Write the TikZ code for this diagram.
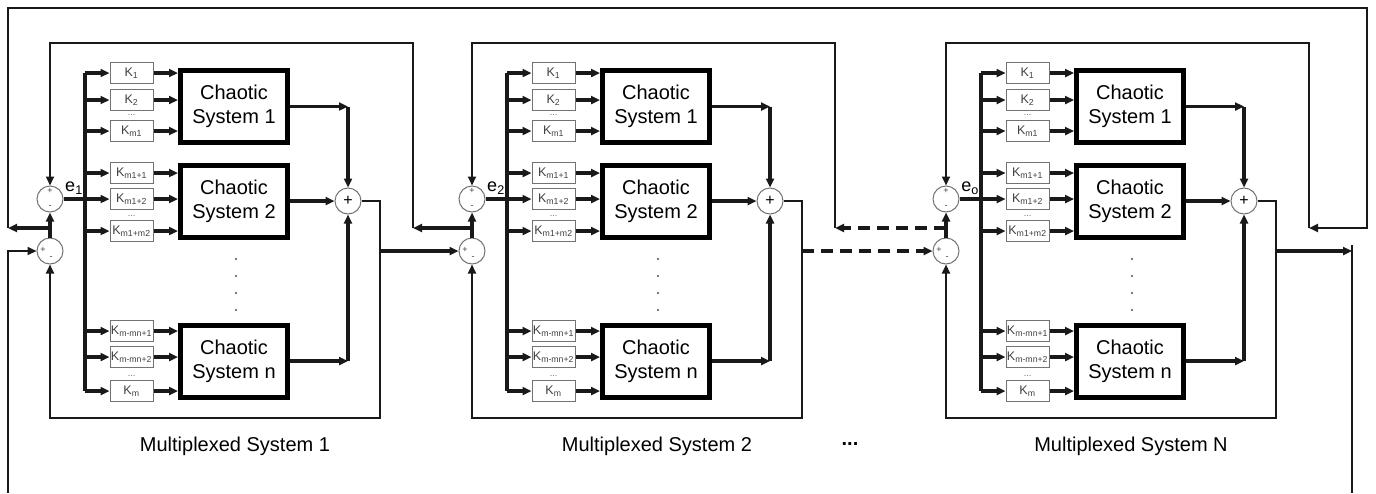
\documentclass[tikz,border=0pt]{standalone}
\usepackage{fontspec}
\setmainfont{Liberation Sans}
\usetikzlibrary{arrows.meta}
\begin{document}
\begin{tikzpicture}[x=1pt,y=-1pt,
  wire/.style={line width=2.1pt, draw=black!90},
  bus/.style={line width=3.1pt, draw=black!90},
  tip/.style={-{Triangle[length=9pt,width=8pt]}},
  sumc/.style={circle, draw=black!55, line width=1pt, minimum size=26pt, inner sep=0pt},
  gain/.style={draw=black!55, line width=1pt, minimum width=43pt, minimum height=21pt,
    inner sep=0pt, text=black!75, font=\fontsize{12.5}{13}\selectfont},
  chaos/.style={draw=black, line width=5pt, minimum width=107pt, minimum height=72pt,
    align=center, inner sep=0pt, font=\fontsize{20}{24}\selectfont},
  sign/.style={font=\fontsize{9}{9}\selectfont, text=black!75, inner sep=0pt},
  kdots/.style={font=\fontsize{9}{9}\selectfont, text=black!60, inner sep=0pt},
  vdot/.style={circle, fill=black!70, minimum size=2.2pt, inner sep=0pt},
  caption/.style={font=\fontsize{20}{24}\selectfont, inner sep=0pt},
]
\useasboundingbox (0,0) rectangle (1376,493);

% one multiplexed block per offset
\foreach \ox/\pr/\ee/\nm in {0/a/1/1, 422/b/2/2, 896/c/o/N}{
\begin{scope}[xshift=\ox pt]
  % error summing junctions
  \node[sumc] (\pr-sa) at (50,199) {};
  \node[sign] (\pr-sap) at (50,191) {+};
  \node[sign] (\pr-sam) at (50,207) {-};
  \node[sumc] (\pr-sb) at (50,251) {};
  \node[sign] (\pr-sbp) at (43,250) {+};
  \node[sign] (\pr-sbm) at (51,258) {-};
  \node[font=\fontsize{18}{18}\selectfont, inner sep=0pt] (\pr-e) at (74,188) {e\textsubscript{\ee}};
  \coordinate (\pr-j) at (50,228);
  \coordinate (\pr-tr) at (413,228);
  \coordinate (\pr-tl) at (50,43);

  % chaotic systems
  \node[chaos] (\pr-cs1) at (234,106.5) {Chaotic\\System 1};
  \node[chaos] (\pr-cs2) at (234,201) {Chaotic\\System 2};
  \node[chaos] (\pr-csn) at (234,361) {Chaotic\\System n};
  \foreach \y [count=\i] in {259,276,293,310}
    \node[vdot] (\pr-vd\i) at (236,\y) {};

  % gains fed from the error bus
  \foreach \k/\y/\t/\c in {1/73/1/cs1, 2/100/2/cs1, 3/131/m1/cs1,
                           4/173/m1+1/cs2, 5/199/m1+2/cs2, 6/231/m1+m2/cs2,
                           7/331/m-mn+1/csn, 8/357/m-mn+2/csn, 9/391/m/csn}{
    \node[gain] (\pr-k\k) at (131.5,\y) {K\textsubscript{\t}};
    \coordinate (\pr-b\k) at (85,\y);
    \draw[bus,tip] (\pr-b\k) -- (\pr-k\k.west);
    \draw[bus,tip] (\pr-k\k.east) -- (\pr-k\k.east -| \pr-\c.west);
  }
  \node[kdots] (\pr-kd1) at (131.5,115) {...};
  \node[kdots] (\pr-kd2) at (131.5,216) {...};
  \node[kdots] (\pr-kd3) at (131.5,376) {...};
  \draw[bus] (\pr-b1) -- (\pr-b9);
  \draw[bus] (\pr-sa.east) -- (\pr-b5);
  \draw[bus,tip] (\pr-sb.north) -- (\pr-sa.south);

  % output summation
  \node[sumc, font=\fontsize{16}{16}\selectfont] (\pr-s) at (348,201) {+};
  \coordinate (\pr-c1) at (348,106.5);
  \coordinate (\pr-cn) at (348,361);
  \draw[bus,tip] (\pr-cs1.east) -- (\pr-c1);
  \draw[bus,tip] (\pr-c1) -- (\pr-s.north);
  \draw[bus,tip] (\pr-cs2.east) -- (\pr-s.west);
  \draw[bus,tip] (\pr-csn.east) -- (\pr-cn);
  \draw[bus,tip] (\pr-cn) -- (\pr-s.south);

  % local feedback of the summed output
  \coordinate (\pr-ob) at (380,418);
  \coordinate (\pr-ol) at (50,418);
  \coordinate (\pr-out) at (380,251);
  \draw[wire,tip] (\pr-s.east) -| (\pr-ob) -- (\pr-ol) -- (\pr-sb.south);

  % reference input from the neighbouring block
  \draw[wire,tip] (\pr-tr) -- (\pr-tr |- \pr-tl) -- (\pr-tl) -- (\pr-sa.north);

  \node[caption] (\pr-cap) at (235,446) {Multiplexed System \nm};
\end{scope}
}

% links between the blocks
\draw[bus,tip] (a-out) -- (b-sb.west);
\draw[bus,tip,dash pattern=on 12pt off 7pt] (b-out) -- (c-sb.west);
\draw[bus,tip] (b-j) -- (a-tr);
\draw[bus,tip,dash pattern=on 12pt off 7pt] (c-j) -- (b-tr);
\node[caption] (between) at (850,444) {\textbf{...}};

% outer ring: first block back to the last one
\coordinate (ol) at (8,228);
\coordinate (otl) at (8,8);
\coordinate (otr) at (1367,8);
\coordinate (or) at (1367,228);
\draw[bus,tip] (a-j) -- (ol);
\draw[wire,tip] (ol) -- (otl) -- (otr) -- (or) -- (c-tr);

% last block output returned to the first block
\coordinate (br) at (1352,251);
\coordinate (brt) at (1352,245);
\coordinate (brb) at (1352,493);
\coordinate (blb) at (8,493);
\coordinate (bl) at (8,251);
\draw[bus,tip] (c-out) -- (br);
\draw[wire] (brt) -- (brb);
\draw[wire,tip] (blb) -- (bl) -- (a-sb.west);
\end{tikzpicture}
\end{document}
